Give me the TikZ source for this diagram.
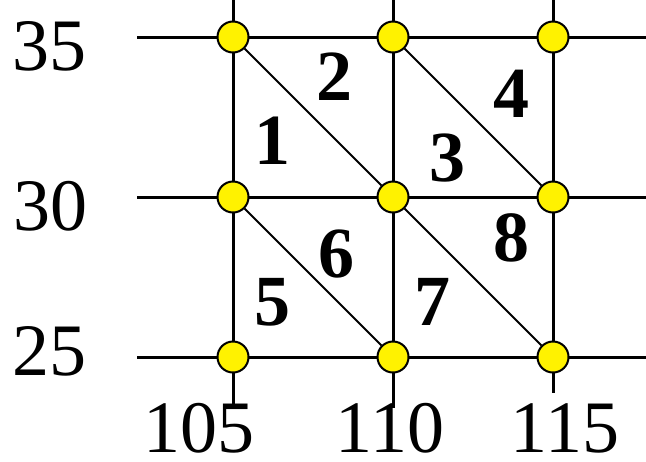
\documentclass[tikz,border=0pt]{standalone}
\usepackage{fontspec}
\setmainfont{Liberation Serif}
\usepackage{tikz}
\usetikzlibrary{positioning, calc}

\begin{document}
\begin{tikzpicture}[
  x=0.5pt, y=-0.5pt,
  gridline/.style={line width=1.5pt},
  diagline/.style={line width=0.9pt},
  vtx/.style={circle, draw, line width=1pt, fill=yellow, minimum size=15.5pt, inner sep=0pt},
  axlabel/.style={font=\fontsize{37}{37}\selectfont, inner sep=0pt},
  tri/.style={font=\fontsize{36}{36}\selectfont\bfseries, inner sep=0pt}
]
  \useasboundingbox (0,0) rectangle (646,461);

  % grid
  \draw[gridline] (137,37) -- (646,37);
  \draw[gridline] (137,197) -- (646,197);
  \draw[gridline] (137,357) -- (646,357);
  \draw[gridline] (233,0) -- (233,408);
  \draw[gridline] (393,0) -- (393,408);
  \draw[gridline] (553,0) -- (553,393);

  % vertices
  \node[vtx] (p105-35) at (233,37) {};
  \node[vtx] (p110-35) at (393,37) {};
  \node[vtx] (p115-35) at (553,37) {};
  \node[vtx] (p105-30) at (233,197) {};
  \node[vtx] (p110-30) at (393,197) {};
  \node[vtx] (p115-30) at (553,197) {};
  \node[vtx] (p105-25) at (233,357) {};
  \node[vtx] (p110-25) at (393,357) {};
  \node[vtx] (p115-25) at (553,357) {};

  % diagonals
  \draw[diagline] (p105-35) -- (p110-30);
  \draw[diagline] (p110-35) -- (p115-30);
  \draw[diagline] (p105-30) -- (p110-25);
  \draw[diagline] (p110-30) -- (p115-25);

  % triangle numbers
  \node[tri] (t1) at (272,141) {1};
  \node[tri] (t2) at (334,77) {2};
  \node[tri] (t3) at (447,158) {3};
  \node[tri] (t4) at (511,94) {4};
  \node[tri] (t5) at (272,302) {5};
  \node[tri] (t6) at (336,254) {6};
  \node[tri] (t7) at (432,302) {7};
  \node[tri] (t8) at (511,238) {8};

  % axis values
  \node[axlabel] (y35) at (49,46) {35};
  \node[axlabel] (y30) at (50,206) {30};
  \node[axlabel] (y25) at (49,351) {25};
  \node[axlabel] (x105) at (199,428) {105};
  \node[axlabel] (x110) at (390,428) {110};
  \node[axlabel] (x115) at (565,428) {115};
\end{tikzpicture}
\end{document}
